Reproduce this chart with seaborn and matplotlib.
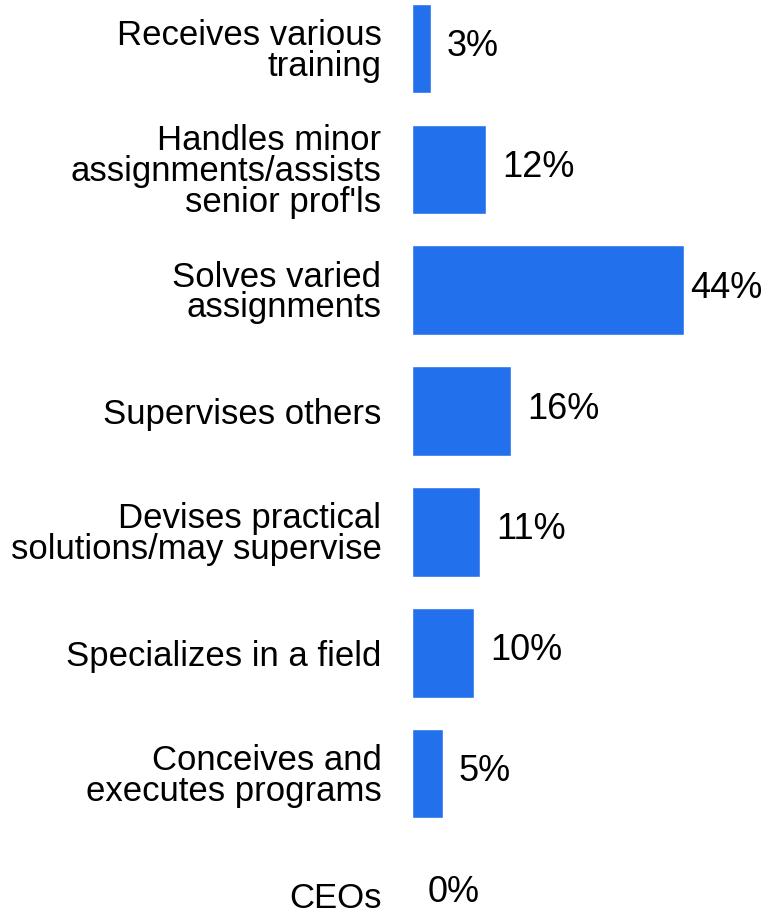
import matplotlib
matplotlib.use("Agg")
import matplotlib.pyplot as plt
import matplotlib.transforms as mtransforms
import seaborn as sns
import pandas as pd

# Data
categories = [
    "Receives various\ntraining",
    "Handles minor\nassignments/assists\nsenior prof'ls",
    "Solves varied\nassignments",
    "Supervises others",
    "Devises practical\nsolutions/may supervise",
    "Specializes in a field",
    "Conceives and\nexecutes programs",
    "CEOs",
]
values = [3, 12, 44, 16, 11, 10, 5, 0]

df = pd.DataFrame({"role": categories, "pct": values})

sns.set_theme(style="white")
plt.rcParams["font.family"] = ["Liberation Sans", "DejaVu Sans"]
plt.rcParams["text.color"] = "black"

fig = plt.figure(figsize=(7.72, 9.14), dpi=100)
ax = fig.add_axes([412 / 772, 0, 360 / 772, 1])

sns.barplot(data=df, x="pct", y="role", orient="h", color="#2370EC",
            saturation=1, width=0.74, ax=ax)

ax.set_xlim(0, 58.2)
ax.set_ylim(7.16, -0.40)
for s in ax.spines.values():
    s.set_visible(False)
ax.set_xticks([])
ax.set_xlabel("")
ax.set_ylabel("")
ax.tick_params(axis="y", length=0, pad=22, labelsize=25, labelcolor="black")
for lbl in ax.get_yticklabels():
    lbl.set_multialignment("right")
    lbl.set_linespacing(0.91)

# value labels
for i, v in enumerate(values):
    pad = 16 if v < 40 else 6
    offset = mtransforms.offset_copy(ax.transData, fig=fig, x=pad, y=2, units="dots")
    ax.text(v, i, f"{v}%", transform=offset, ha="left", va="center",
            fontsize=26, color="black")

fig.savefig("out.png", dpi=100, facecolor="white")
